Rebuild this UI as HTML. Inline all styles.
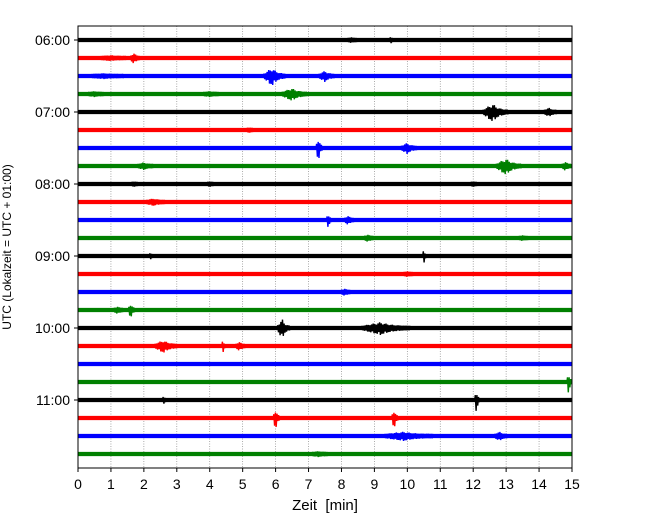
<!DOCTYPE html>
<html><head><meta charset="utf-8">
<style>
body{margin:0;background:#fff;}
svg{display:block;font-family:"Liberation Sans","DejaVu Sans",sans-serif;}
</style></head>
<body>
<svg id="chart" width="650" height="520" viewBox="0 0 650 520">
<g id="grid"></g>
<g id="traces"></g>
<rect x="78" y="26" width="494" height="442" fill="none" stroke="#000" stroke-width="1"/>
<g id="xaxis"></g>
<g id="yaxis"></g>
<text x="325" y="510" text-anchor="middle" font-size="15" xml:space="preserve">Zeit  [min]</text>
<text transform="translate(11,247) rotate(-90)" text-anchor="middle" font-size="12">UTC (Lokalzeit = UTC + 01:00)</text>
</svg>
<script>
const xTicks=[0,1,2,3,4,5,6,7,8,9,10,11,12,13,14,15];
const yTickLabels=["06:00","07:00","08:00","09:00","10:00","11:00"];
const rowColors=["#000000","#ff0000","#0000ff","#008000"];
const rowCount=24;
const eventRow=[0,0,1,1,2,2,2,3,3,3,4,4,5,6,6,7,7,7,8,8,8,9,10,10,11,11,12,12,13,14,15,15,16,16,17,17,17,19,20,20,21,21,22,22,23];
const eventTime=[8.3,9.5,1.0,1.7,5.9,7.5,0.8,4.0,6.5,0.5,12.6,14.3,5.2,7.3,10.0,2.0,13.0,14.8,1.7,4.0,12.0,2.3,7.6,8.2,8.8,13.5,2.2,10.5,10.0,8.1,1.6,1.2,6.2,9.2,2.6,4.4,4.9,14.9,12.1,2.6,6.0,9.6,9.9,12.8,7.3];
const eventAmp=[3,4,3,6,10,6,3,3,7,3,10,5,3,15,6,4,9,5,3,3,3,4,9,5,4,3,4,10,3,4,9,4,11,7,7,9,5,14,15,5,13,12,5,5,3];
const eventDur=[0.3,0.1,0.8,0.3,0.7,0.5,1.0,0.5,0.8,0.5,0.8,0.4,0.2,0.2,0.5,0.5,0.8,0.3,0.2,0.2,0.2,0.6,0.15,0.3,0.3,0.3,0.1,0.1,0.3,0.3,0.2,0.3,0.4,1.5,0.7,0.1,0.3,0.15,0.15,0.1,0.2,0.2,1.5,0.4,0.5];

const NS="http://www.w3.org/2000/svg";
const X0=78,X1=572,Y0=40,DY=18;
function xScale(t){return X0+(t/15)*(X1-X0);}
function yScale(r){return Y0+r*DY;}
function mk(tag,attrs,parent){const e=document.createElementNS(NS,tag);for(const k in attrs)e.setAttribute(k,attrs[k]);parent.appendChild(e);return e;}

const grid=document.getElementById('grid');
const xa=document.getElementById('xaxis');
xTicks.forEach(t=>{
  if(t>0&&t<15){const g=mk('line',{x1:xScale(t),x2:xScale(t),y1:26,y2:468,stroke:'#888','stroke-width':0.7,'stroke-dasharray':'1,1.5'},grid);
  
  }
  const tk=mk('line',{x1:xScale(t),x2:xScale(t),y1:468,y2:472,stroke:'#000'},xa);
  
  
  const tl=mk('text',{x:xScale(t),y:489,'text-anchor':'middle','font-size':14},xa);
  tl.textContent=t;
  
  
});
const ya=document.getElementById('yaxis');
yTickLabels.forEach((lab,i)=>{
  const y=yScale(i*4);
  const tk=mk('line',{x1:74,x2:78,y1:y,y2:y,stroke:'#000'},ya);
  
  
  const tl=mk('text',{x:70,y:y+5,'text-anchor':'end','font-size':14},ya);
  tl.textContent=lab;
  
  
});

const tr=document.getElementById('traces');
for(let r=0;r<rowCount;r++){
  const c=rowColors[r%4];
  const l=mk('line',{x1:X0,x2:X1,y1:yScale(r),y2:yScale(r),stroke:c,'stroke-width':4.2},tr);
  
  
}
const wiggle=[1,0.55,0.85,0.35,0.95,0.6,0.45,0.8];
eventTime.forEach((t,i)=>{
  const r=eventRow[i],c=rowColors[r%4],a=eventAmp[i],d=eventDur[i];
  const xs=xScale(t-d*0.4),xe=xScale(t+d*0.6),xp=xScale(t);
  const y=yScale(r);let pts=[];let s=1,k=0;
  for(let x=xs;x<=xe;x+=0.8){
    const env=x<xp?(x-xs)/Math.max(xp-xs,0.5):Math.exp(-3*(x-xp)/Math.max(xe-xp,0.5));
    pts.push(x.toFixed(1)+','+(y+s*(2+(a-2)*env*wiggle[k%8])).toFixed(1));s=-s;k++;
  }
  const p=mk('polyline',{points:pts.join(' '),fill:'none',stroke:c,'stroke-width':1.4},tr);
  
  
});
</script>
</body></html>
